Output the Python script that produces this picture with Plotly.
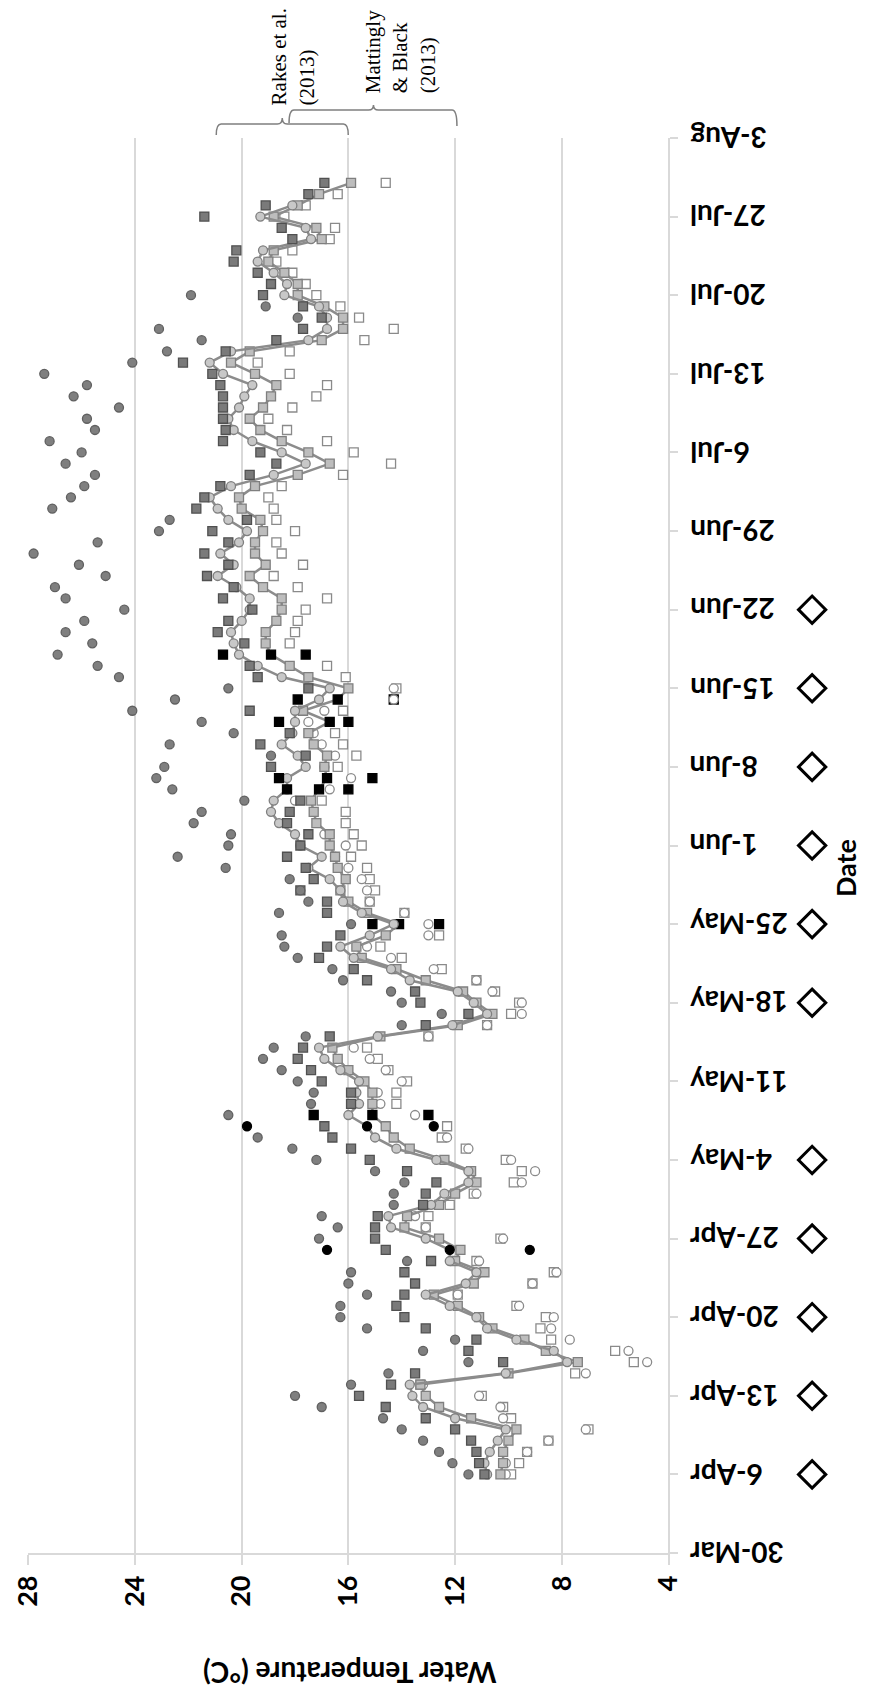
import pandas as pd
import plotly.graph_objects as go

# Daily logger record, 6 Apr - 30 Jul
dates = pd.date_range("2014-04-06", "2014-07-30", freq="D")

# Site A (circles) and site B (squares): daily maximum, mean and minimum (deg C)
max_a = [11.5, 12.1, 12.6, 13.2, 14.0, 14.7, 17.0, 18.0, 15.9, 14.5, 11.5, 13.2, 12.0, 15.3, 16.3, 16.3, 15.3, 16.0,
         15.9, 13.8, 16.8, 17.1, 16.4, 17.0, 14.3, 14.3, 13.9, 15.0, 17.2, 18.1, 19.4, 19.8, 20.5, 17.4, 17.3, 17.9,
         18.5, 19.2, 18.8, 17.6, 14.0, 12.5, 14.0, 14.4, 16.2, 16.6, 17.9, 18.4, 18.5, 15.9, 18.6, 17.5, 17.8, 18.2,
         20.6, 22.4, 20.5, 20.4, 21.8, 21.5, 19.9, 22.6, 23.2, 22.9, 18.9, 22.7, 20.3, 21.5, 24.1, 22.5, 20.5, 24.6,
         25.4, 26.9, 25.6, 26.6, 25.9, 24.4, 26.6, 27.0, 25.1, 26.1, 27.8, 25.4, 23.1, 22.7, 27.1, 26.4, 25.9, 25.5,
         26.6, 26.0, 27.2, 25.5, 25.8, 24.6, 26.3, 25.8, 27.4, 24.1, 22.8, 21.5, 23.1, 17.9, 19.1, 21.9, None, None,
         None, None, None, None, None, None, None, None]
max_b = [10.9, 11.1, 11.2, 11.4, 12.0, 13.1, 14.6, 15.6, 14.4, 13.5, 10.2, 11.5, 11.2, 13.1, 13.9, 14.2, 13.9, 13.5,
         13.9, 12.9, 14.6, 15.0, 15.0, 14.9, 13.2, 13.1, 12.7, 13.8, 15.2, 15.9, 16.6, 16.9, 17.3, 15.9, 15.9, 17.0,
         17.4, 17.9, 17.7, 16.7, 13.1, 11.5, 13.3, 13.5, 15.3, 15.8, 17.1, 16.8, 16.3, 15.1, 16.8, 16.8, 17.8, 17.3,
         17.6, 18.3, 17.8, 17.5, 18.3, 18.2, 17.8, 18.3, 18.6, 18.9, 17.6, 19.3, 18.2, 18.6, 19.7, 17.9, 17.5, 19.4,
         19.7, 20.7, 19.9, 20.9, 20.5, 19.6, 20.7, 20.3, 21.3, 20.5, 21.4, 20.5, 21.1, 19.8, 21.7, 21.4, 20.8, 19.7,
         18.7, 19.3, 20.7, 20.6, 20.7, 20.7, 20.7, 20.8, 21.1, 22.2, 20.6, 18.7, 17.7, 17.0, 17.7, 19.2, 18.9, 19.4,
         20.3, 20.2, 18.1, 18.5, 21.4, 19.1, 17.5, 16.9]
mean_a = [10.8, 10.9, 10.7, 10.4, 10.1, 12.0, 13.2, 13.6, 13.7, 10.1, 7.8, 8.3, 9.7, 10.8, 11.2, 12.2, 13.1, 11.6,
          11.2, 12.2, 12.2, 13.1, 14.4, 14.5, 12.9, 12.4, 11.5, 11.5, 12.7, 14.2, 15.0, 15.3, 16.0, 15.6, 15.7, 15.6,
          16.3, 16.9, 17.1, 14.9, 12.1, 10.8, 11.3, 11.9, 13.7, 14.4, 15.8, 16.3, 15.2, 14.3, 15.5, 16.2, 16.3, 16.7,
          17.5, 17.0, 17.8, 18.0, 18.6, 18.9, 18.8, 18.3, 18.3, 17.6, 17.9, 18.5, 18.1, 18.0, 18.0, 17.1, 16.7, 18.5,
          19.4, 20.1, 20.3, 20.4, 20.0, 19.7, 19.7, 20.2, 20.9, 20.3, 20.8, 20.1, 19.8, 20.5, 20.9, 21.2, 20.4, 18.8,
          17.6, 18.5, 19.6, 20.3, 20.5, 20.1, 19.9, 19.6, 20.7, 21.2, 20.4, 17.5, 16.8, 16.8, 17.1, 18.4, 18.3, 18.8,
          19.4, 19.2, 17.4, 17.6, 19.3, 18.1, None, None]
mean_b = [10.3, 10.2, 10.2, 10.0, 9.7, 11.4, 12.6, 13.1, 13.3, 10.0, 7.4, 8.6, 9.4, 10.6, 11.1, 11.9, 12.8, 11.3,
          10.9, 12.0, 11.8, 12.6, 13.9, 13.8, 12.6, 12.0, 11.2, 11.4, 12.4, 13.7, 14.3, 14.6, 15.1, 15.1, 15.1, 15.4,
          16.0, 16.4, 16.6, 14.8, 11.9, 10.6, 11.2, 11.7, 13.1, 14.2, 15.5, 15.7, 14.6, 14.1, 15.3, 16.0, 16.3, 16.1,
          16.4, 16.5, 16.7, 16.7, 17.2, 17.3, 17.4, 17.1, 16.8, 16.9, 16.8, 17.3, 17.5, 16.7, 17.7, 16.4, 16.0, 17.5,
          18.2, 18.9, 19.1, 19.1, 18.7, 18.5, 18.5, 19.2, 19.7, 19.1, 19.5, 19.5, 19.2, 19.3, 20.0, 20.1, 19.5, 17.9,
          16.7, 17.5, 18.5, 19.3, 19.7, 19.2, 18.9, 18.7, 19.5, 20.4, 19.7, 17.0, 16.2, 16.2, 16.9, 17.9, 17.9, 18.4,
          19.0, 18.8, 17.0, 17.2, 18.8, 17.9, 17.1, 15.9]
min_a = [10.1, 10.1, 9.3, 8.5, 7.1, 10.2, 10.3, 11.1, 13.2, 7.1, 4.8, 5.5, 7.7, 8.4, 8.3, 9.6, 11.9, 9.1,
         8.2, 11.1, 9.2, 10.2, 13.1, 13.5, 12.6, 11.2, 9.5, 9.0, 9.9, 11.5, 12.3, 12.8, 13.5, 14.8, 14.9, 14.0,
         14.6, 15.2, 15.8, 13.0, 10.8, 9.5, 9.5, 10.6, 11.2, 12.8, 14.4, 15.3, 13.0, 13.0, 13.9, 15.2, 15.3, 15.5,
         16.0, 16.5, 16.1, 16.9, None, None, 18.0, 16.7, 15.9, 16.9, 16.5, 17.0, 17.3, 17.5, 16.9, 14.3, 14.3, None,
         None, None, None, None, None, None, None, None, None, None, None, None, None, None, None, None, None, None,
         None, None, None, None, None, None, None, None, None, None, None, None, None, None, None, None, None, None,
         None, None, None, None, None, None, None, None]
min_b = [9.9, 9.6, 9.3, 8.5, 7.0, 9.9, 10.2, 11.0, 13.3, 7.5, 5.3, 6.0, 8.4, 8.8, 8.6, 9.7, 11.9, 9.1,
         8.3, 11.2, None, 10.3, 13.1, 13.0, 12.2, 11.3, 9.8, 9.5, 10.1, 11.6, 12.5, 12.3, 13.0, 14.2, 14.2, 13.8,
         14.5, 14.9, 15.3, 13.0, 10.8, 9.9, 9.6, 10.5, 11.2, 12.5, 14.0, 14.8, 12.6, 12.6, 13.9, 15.2, 15.0, 15.2,
         15.3, 15.9, 15.5, 15.8, 16.1, 16.1, 17.0, 16.0, 15.1, 16.4, 15.7, 16.2, 16.5, 16.0, 16.2, 14.3, 14.2, 16.1,
         16.8, 17.6, 18.2, 18.0, 17.9, 17.6, 16.8, 17.9, 18.8, 17.7, 18.5, 18.7, 18.0, 18.7, 18.8, 19.0, 18.5, 16.2,
         14.4, 15.8, 16.8, 18.3, 19.0, 18.1, 17.2, 16.8, 18.2, 19.4, 18.2, 15.4, 14.3, 15.6, 16.3, 17.2, 17.6, 18.1,
         18.7, 18.1, 16.7, 16.5, 18.4, 17.6, 16.4, 14.6]

# Days drawn in black for each site
highlight_a = ["2014-04-26", "2014-05-07"]
highlight_b = ["2014-05-08", "2014-05-25", "2014-06-06", "2014-06-07", "2014-06-12", "2014-06-14", "2014-06-18"]

# Survey dates (open diamonds beside the date axis)
survey_dates = ["2014-04-06", "2014-04-13", "2014-04-20", "2014-04-27", "2014-05-04", "2014-05-18",
                "2014-05-25", "2014-06-01", "2014-06-08", "2014-06-15", "2014-06-22"]

tick_dates = ["2014-03-30", "2014-04-06", "2014-04-13", "2014-04-20", "2014-04-27", "2014-05-04", "2014-05-11",
              "2014-05-18", "2014-05-25", "2014-06-01", "2014-06-08", "2014-06-15", "2014-06-22", "2014-06-29",
              "2014-07-06", "2014-07-13", "2014-07-20", "2014-07-27", "2014-08-03"]
tick_labels = ["30-Mar", "6-Apr", "13-Apr", "20-Apr", "27-Apr", "4-May", "11-May", "18-May", "25-May", "1-Jun",
               "8-Jun", "15-Jun", "22-Jun", "29-Jun", "6-Jul", "13-Jul", "20-Jul", "27-Jul", "3-Aug"]
temp_ticks = [28, 24, 20, 16, 12, 8, 4]

day_keys = [d.strftime("%Y-%m-%d") for d in dates]

# page geometry (pixels)
W, H = 874, 1700
ML, MR, MT, MB = 18, 10, 138, 147
PW = W - ML - MR
PLOT_W, PLOT_TOP, PLOT_BOTTOM = 660, MT, H - MB


def fx(xp):
    return (xp - ML) / PW


def fy(yp):
    return (PLOT_BOTTOM - yp) / (PLOT_BOTTOM - PLOT_TOP)


def colours(base, flagged):
    return ["#000000" if k in flagged else base for k in day_keys]


fig = go.Figure()

# minimum temperatures (open markers)
fig.add_trace(go.Scatter(x=min_b, y=dates, mode="markers", name="Min B",
                         marker=dict(symbol="square", size=9, color=colours("#ffffff", highlight_b),
                                     line=dict(color=colours("#8a8a8a", highlight_b), width=1.3))))
fig.add_trace(go.Scatter(x=min_a, y=dates, mode="markers", name="Min A",
                         marker=dict(symbol="circle", size=9, color=colours("#ffffff", highlight_a),
                                     line=dict(color=colours("#8a8a8a", highlight_a), width=1.3))))
# daily means with connecting lines
fig.add_trace(go.Scatter(x=mean_b, y=dates, mode="lines+markers", name="Mean B",
                         line=dict(color="#8c8c8c", width=2.5),
                         marker=dict(symbol="square", size=9, color=colours("#bdbdbd", highlight_b),
                                     line=dict(color=colours("#7f7f7f", highlight_b), width=1.3))))
fig.add_trace(go.Scatter(x=mean_a, y=dates, mode="lines+markers", name="Mean A",
                         line=dict(color="#8c8c8c", width=2.5),
                         marker=dict(symbol="circle", size=9, color=colours("#c8c8c8", highlight_a),
                                     line=dict(color=colours("#7f7f7f", highlight_a), width=1.3))))
# daily maxima
fig.add_trace(go.Scatter(x=max_b, y=dates, mode="markers", name="Max B",
                         marker=dict(symbol="square", size=9, color=colours("#7a7a7a", highlight_b),
                                     line=dict(color=colours("#505050", highlight_b), width=1.3))))
fig.add_trace(go.Scatter(x=max_a, y=dates, mode="markers", name="Max A",
                         marker=dict(symbol="circle", size=9, color=colours("#7f7f7f", highlight_a),
                                     line=dict(color=colours("#606060", highlight_a), width=1.3))))

# survey days on a narrow strip axis right of the date labels
fig.add_trace(go.Scatter(x=[0.5] * len(survey_dates), y=survey_dates, mode="markers", name="Survey",
                         xaxis="x2", yaxis="y", cliponaxis=False,
                         marker=dict(symbol="diamond-open", size=21, color="#000000", line=dict(width=3))))

grid = "#d9d9d9"
bold_sans = dict(family="Lato, sans-serif", weight="bold", color="#000000")
fig.update_layout(
    width=W, height=H,
    margin=dict(l=ML, r=MR, t=MT, b=MB),
    paper_bgcolor="white", plot_bgcolor="white",
    showlegend=False,
    font=dict(family="Lato, sans-serif", color="#000000"),
    xaxis=dict(domain=[0, PLOT_W / PW], range=[28.01, 4], tickvals=temp_ticks,
               ticktext=[str(t) for t in temp_ticks],
               showgrid=True, gridcolor=grid, gridwidth=1.5, zeroline=False,
               showline=True, linecolor=grid, linewidth=1.5,
               ticks="outside", ticklen=10, tickcolor=grid, tickwidth=1.5,
               tickangle=-90, tickfont=dict(size=27, **bold_sans), ticklabelstandoff=0,
               ticklabeloverflow="allow"),
    xaxis2=dict(domain=[fx(810), fx(842)], range=[0, 1], anchor="y", visible=False),
    yaxis=dict(type="date", range=["2014-03-30", "2014-08-03"], side="right", anchor="x",
               tickvals=tick_dates, showticklabels=False,
               showgrid=False, zeroline=False,
               showline=True, linecolor=grid, linewidth=1.5,
               ticks="outside", ticklen=8, tickcolor=grid, tickwidth=1.5),
)

# date labels, turned upside down beside the axis
for d, lab in zip(tick_dates, tick_labels):
    fig.add_annotation(text=lab, xref="paper", yref="y", x=fx(698), y=d,
                       xanchor="left", yanchor="middle", textangle=180, showarrow=False,
                       font=dict(size=28, **bold_sans))


def pt(xp, yp):
    return f"{fx(xp):.5f},{fy(yp):.5f}"


brace_rakes = (f"M {pt(212, 135)} Q {pt(212, 124)} {pt(217, 124)} L {pt(275, 124)} "
               f"Q {pt(280, 124)} {pt(280, 118)} Q {pt(280, 124)} {pt(285, 124)} "
               f"L {pt(343, 124)} Q {pt(348, 124)} {pt(348, 135)}")
brace_matt = (f"M {pt(287, 123)} Q {pt(287, 110)} {pt(292, 110)} L {pt(369, 110)} "
              f"Q {pt(374, 110)} {pt(374, 105)} Q {pt(374, 110)} {pt(379, 110)} "
              f"L {pt(455, 110)} Q {pt(460, 110)} {pt(460, 126)}")
for path in (brace_rakes, brace_matt):
    fig.add_shape(type="path", path=path, xref="paper", yref="paper",
                  line=dict(color="#7f7f7f", width=1.5))

serif = dict(family="Liberation Serif, serif", size=21, color="#000000")
fig.add_annotation(text="Rakes et al.<br>(2013)", xref="paper", yref="paper",
                   x=fx(291), y=fy(107), xanchor="center", yanchor="bottom",
                   textangle=-90, align="left", showarrow=False, font=serif)
fig.add_annotation(text="Mattingly<br>&amp; Black<br>(2013)", xref="paper", yref="paper",
                   x=fx(402), y=fy(95), xanchor="center", yanchor="bottom",
                   textangle=-90, align="left", showarrow=False, font=serif)

fig.add_annotation(text="Water Temperature (°C)", xref="paper", yref="paper",
                   x=fx(350), y=fy(1673), xanchor="center", yanchor="middle",
                   textangle=180, showarrow=False, font=dict(size=28, **bold_sans))
fig.add_annotation(text="Date", xref="paper", yref="paper",
                   x=fx(860), y=fy(868), xanchor="center", yanchor="middle",
                   textangle=-90, showarrow=False, font=dict(size=27, **bold_sans))

fig.write_html("out.html")
